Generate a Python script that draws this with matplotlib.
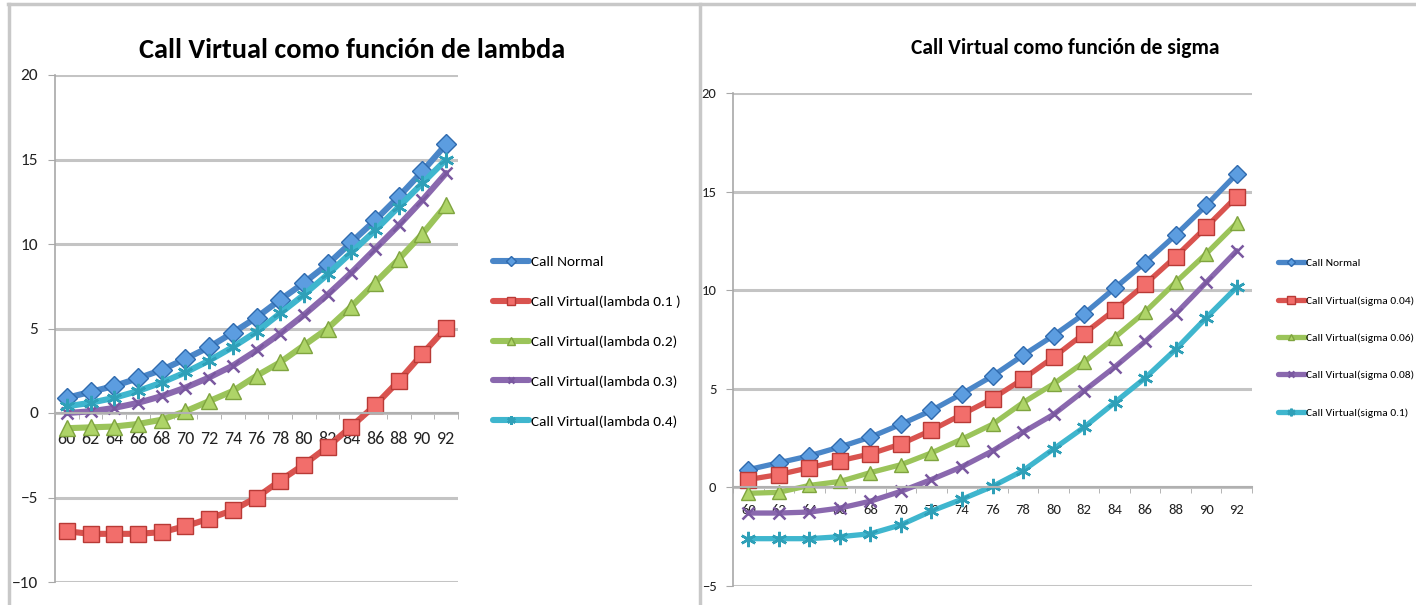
import matplotlib
matplotlib.use("Agg")
import matplotlib.pyplot as plt
from matplotlib.lines import Line2D
import numpy as np

# Strike prices (category axis)
strikes = [60, 62, 64, 66, 68, 70, 72, 74, 76, 78, 80, 82, 84, 86, 88, 90, 92]

# Plain call price
call_normal = [0.9, 1.25, 1.6, 2.05, 2.55, 3.2, 3.9, 4.75, 5.65, 6.7, 7.7, 8.8, 10.1, 11.4, 12.8, 14.3, 15.9]

# Virtual call for several lambdas
lambda_01 = [-7.0, -7.15, -7.15, -7.15, -7.05, -6.7, -6.25, -5.75, -5.0, -4.0, -3.05, -2.0, -0.8, 0.45, 1.9, 3.5, 5.05]
lambda_02 = [-0.9, -0.85, -0.8, -0.65, -0.4, 0.1, 0.7, 1.3, 2.2, 3.0, 4.0, 5.0, 6.3, 7.7, 9.1, 10.6, 12.3]
lambda_03 = [0.0, 0.1, 0.3, 0.6, 1.0, 1.5, 2.1, 2.8, 3.7, 4.7, 5.8, 7.0, 8.3, 9.7, 11.1, 12.6, 14.2]
lambda_04 = [0.4, 0.6, 0.9, 1.3, 1.8, 2.4, 3.1, 3.9, 4.8, 5.9, 7.0, 8.2, 9.5, 10.8, 12.2, 13.6, 15.0]

# Virtual call for several sigmas
sigma_004 = [0.4, 0.65, 1.0, 1.35, 1.7, 2.2, 2.9, 3.7, 4.5, 5.5, 6.6, 7.8, 9.0, 10.3, 11.7, 13.2, 14.75]
sigma_006 = [-0.3, -0.25, 0.1, 0.3, 0.75, 1.15, 1.75, 2.45, 3.2, 4.3, 5.25, 6.35, 7.6, 8.9, 10.4, 11.85, 13.4]
sigma_008 = [-1.3, -1.3, -1.25, -1.05, -0.7, -0.2, 0.4, 1.05, 1.85, 2.8, 3.7, 4.9, 6.1, 7.4, 8.8, 10.4, 12.0]
sigma_010 = [-2.6, -2.6, -2.6, -2.5, -2.35, -1.9, -1.2, -0.6, 0.05, 0.85, 1.95, 3.05, 4.3, 5.55, 7.0, 8.6, 10.15]

lambda_labels = ["Call Normal", "Call Virtual(lambda 0.1 )", "Call Virtual(lambda 0.2)",
                 "Call Virtual(lambda 0.3)", "Call Virtual(lambda 0.4)"]
sigma_labels = ["Call Normal", "Call Virtual(sigma 0.04)", "Call Virtual(sigma 0.06)",
                "Call Virtual(sigma 0.08)", "Call Virtual(sigma 0.1)"]

plt.rcParams['font.family'] = ['Carlito', 'DejaVu Sans']

W, H = 1416, 605
fig = plt.figure(figsize=(W / 100, H / 100), dpi=100)
fig.patch.set_facecolor('white')

GRID = '#C4C4C4'
STYLES = [
    dict(color='#4A86C8', mfc='#5C9DE0', mec='#2F6AAE', marker='D'),
    dict(color='#D9534F', mfc='#F26E6B', mec='#B83A36', marker='s'),
    dict(color='#9BC45A', mfc='#AED468', mec='#7FA43F', marker='^'),
    dict(color='#8A68AE', mfc='#8A68AE', mec='#7A58A0', marker='x'),
    dict(color='#3FB6CE', mfc='#3FB6CE', mec='#2FA0B8', marker=(6, 2, 0)),
]


def draw_panel(rect, series, labels, ylim, lw, msizes, fs_x, fs_y, xlabel_pad):
    ax = fig.add_axes(rect)
    x = np.arange(len(strikes))
    for vals, lab, st, ms in zip(series, labels, STYLES, msizes):
        thin = st['marker'] == 'x' or isinstance(st['marker'], tuple)
        ax.plot(x, vals, color=st['color'], lw=lw, marker=st['marker'], ms=ms,
                mfc=st['mfc'], mec=st['mec'], mew=1.8 if thin else 1.0, label=lab,
                solid_joinstyle='round', solid_capstyle='round')
    ax.set_xlim(-0.5, len(strikes) - 0.5)
    ax.set_ylim(*ylim)
    ax.set_yticks(np.arange(ylim[0], ylim[1] + 1, 5))
    ax.yaxis.grid(True, color=GRID, lw=2.2)
    ax.set_axisbelow(True)
    for s in ('top', 'right'):
        ax.spines[s].set_visible(False)
    ax.spines['left'].set_color('#A8A8A8')
    ax.spines['left'].set_linewidth(1.2)
    ax.spines['bottom'].set_position(('data', 0))
    ax.spines['bottom'].set_color('#B0B0B0')
    ax.spines['bottom'].set_linewidth(1.5)
    ax.set_xticks(x)
    ax.set_xticklabels([str(s) for s in strikes])
    ax.set_xticks(np.arange(-0.5, len(strikes), 1.0), minor=True)
    ax.tick_params(axis='x', which='major', length=0, labelsize=fs_x,
                   pad=xlabel_pad, labelcolor='#222222')
    ax.tick_params(axis='x', which='minor', length=4, color='#A8A8A8', direction='out')
    ax.tick_params(axis='y', length=5, color='#A8A8A8', labelsize=fs_y,
                   labelcolor='#222222', pad=7)
    return ax


ax1 = draw_panel([55 / W, 23 / H, 403 / W, 507 / H],
                 [call_normal, lambda_01, lambda_02, lambda_03, lambda_04],
                 lambda_labels, (-10, 20), 4.4, [10, 11, 11, 9, 11], 13, 12.5, 13)
ax2 = draw_panel([733 / W, 19 / H, 519 / W, 493 / H],
                 [call_normal, sigma_004, sigma_006, sigma_008, sigma_010],
                 sigma_labels, (-5, 20), 3.8, [9, 11, 10, 9, 11], 10.5, 10.5, 12)

fig.text(352 / W, 1 - 50 / H, "Call Virtual como función de lambda",
         ha='center', va='center', fontsize=20.3, fontweight='bold')
fig.text(1065 / W, 1 - 48 / H, "Call Virtual como función de sigma",
         ha='center', va='center', fontsize=15.5, fontweight='bold')

leg1 = ax1.legend(loc='center left', bbox_to_anchor=(485 / W, 1 - 341.5 / H),
                  bbox_transform=fig.transFigure, frameon=False, fontsize=11,
                  handlelength=2.4, handletextpad=0.1, labelspacing=1.78,
                  borderpad=0, markerscale=0.55)
leg2 = ax2.legend(loc='center left', bbox_to_anchor=(1272 / W, 1 - 338 / H),
                  bbox_transform=fig.transFigure, frameon=False, fontsize=8.2,
                  handlelength=2.4, handletextpad=0.1, labelspacing=2.4,
                  borderpad=0, markerscale=0.5)

# Panel frame lines
frame = dict(color='#C8C8C8', lw=2.5, transform=fig.transFigure)
fig.add_artist(Line2D([8 / W, 1.0], [1 - 4 / H, 1 - 4 / H], **frame))
fig.add_artist(Line2D([9 / W, 9 / W], [0, 1 - 4 / H], **frame))
fig.add_artist(Line2D([700 / W, 700 / W], [0, 1 - 4 / H], **frame))

fig.savefig("out.png", dpi=100)
